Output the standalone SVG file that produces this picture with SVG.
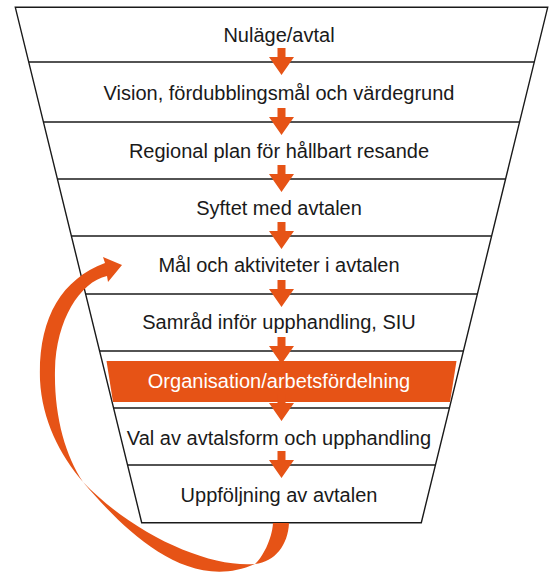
<svg xmlns="http://www.w3.org/2000/svg" width="553" height="574" viewBox="0 0 553 574">
<style>
.edge{fill:none;stroke:#1a1a1a;stroke-width:1.4}
.lbl{font-family:"Liberation Sans",Arial,sans-serif;font-size:20px;fill:#1a1a1a;text-anchor:middle}
.hl{fill:#ffffff}
.or{fill:#E65316}
</style>
<defs>
<path id="dn" d="M-4,-14 H4 V-5 H12.5 L0,13 L-12.5,-5 H-4 Z"/>
</defs>
<rect width="553" height="574" fill="#ffffff"/>
<g id="funnel">
<polygon class="edge" points="15.3,7.3 547.7,7.3 421.3,522.7 141.7,522.7"/>
<line class="edge" x1="28.8" y1="62" x2="534.2" y2="62"/>
<line class="edge" x1="43.5" y1="122" x2="519.5" y2="122"/>
<line class="edge" x1="57.5" y1="179" x2="505.5" y2="179"/>
<line class="edge" x1="71.5" y1="236" x2="491.5" y2="236"/>
<line class="edge" x1="85.7" y1="294" x2="477.3" y2="294"/>
<line class="edge" x1="99.7" y1="351" x2="463.3" y2="351"/>
<line class="edge" x1="113.6" y1="408" x2="449.4" y2="408"/>
<line class="edge" x1="127.6" y1="465" x2="435.4" y2="465"/>
</g>
<g id="n1"><text class="lbl" x="279" y="42">Nuläge/avtal</text></g>
<g id="n2"><text class="lbl" x="279" y="100">Vision, fördubblingsmål och värdegrund</text></g>
<g id="n3"><text class="lbl" x="279" y="158">Regional plan för hållbart resande</text></g>
<g id="n4"><text class="lbl" x="279" y="215">Syftet med avtalen</text></g>
<g id="n5"><text class="lbl" x="279" y="272">Mål och aktiviteter i avtalen</text></g>
<g id="n6"><text class="lbl" x="279" y="329">Samråd inför upphandling, SIU</text></g>
<g id="n7">
<polygon class="or" points="106.5,361 456.5,361 450,402 113,402"/>
<text class="lbl hl" x="279" y="388">Organisation/arbetsfördelning</text>
</g>
<g id="n8"><text class="lbl" x="279" y="445">Val av avtalsform och upphandling</text></g>
<g id="n9"><text class="lbl" x="279" y="502">Uppföljning av avtalen</text></g>
<g id="connectors" class="or">
<use href="#dn" x="281.5" y="62"/>
<use href="#dn" x="281.5" y="122"/>
<use href="#dn" x="281.5" y="179"/>
<use href="#dn" x="281.5" y="236"/>
<use href="#dn" x="281.5" y="294"/>
<use href="#dn" x="281.5" y="351"/>
<use href="#dn" x="281.5" y="408"/>
<use href="#dn" x="281.5" y="465"/>
<path d="M289,523 C288,545 275,562 255,564 C210,568 135,536 83,482 C60,455 42,420 40,380 C38,320 60,280 105,263 L103,257 L122,265 L108,282 L107,276 C80,282 56,320 55,370 C54,415 65,455 83,482 C120,525 185,595 255,564 C262,558 272,540 273,523 Z"/>
</g>
</svg>
